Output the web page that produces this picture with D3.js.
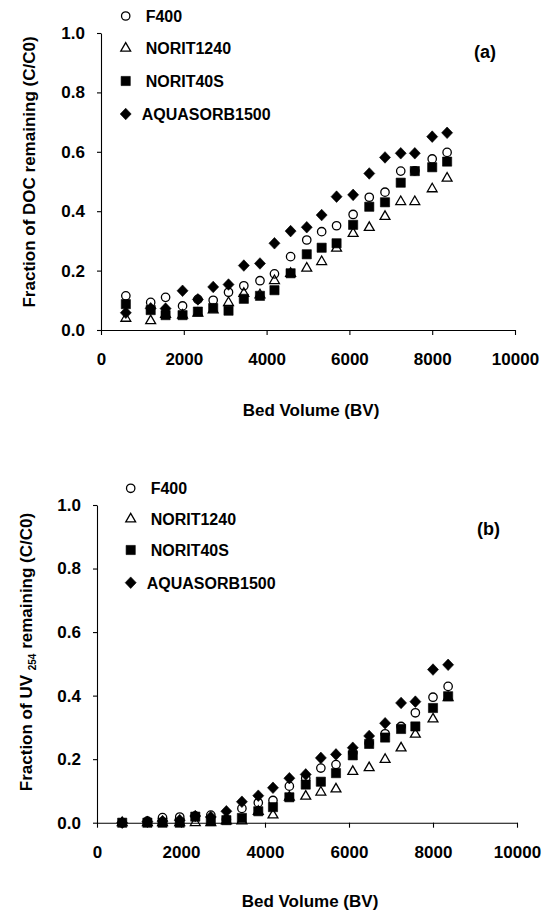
<!DOCTYPE html>
<html>
<head>
<meta charset="utf-8">
<script src="https://cdn.jsdelivr.net/npm/d3@7"></script>
<style>
html,body{margin:0;padding:0;background:#fff;}
svg{display:block;}
text{font-family:"Liberation Sans",Arial,sans-serif;font-weight:bold;fill:#000;}
</style>
</head>
<body>
<svg id="chart" width="551" height="910"></svg>
<script>
// ---- data ----
const bedVolume = [600,1200,1560,1970,2340,2710,3080,3450,3840,4190,4580,4970,5330,5690,6090,6480,6860,7240,7580,8000,8360];
const seriesNames = ["F400","NORIT1240","NORIT40S","AQUASORB1500"];

// (a) DOC
const docF400      = [0.115,0.093,0.110,0.081,0.103,0.100,0.127,0.149,0.166,0.189,0.247,0.303,0.331,0.351,0.389,0.447,0.464,0.535,0.536,0.576,0.598];
const docNorit1240 = [0.039,0.031,0.052,0.050,0.056,0.067,0.092,0.123,0.118,0.166,0.190,0.208,0.230,0.275,0.325,0.345,0.382,0.432,0.432,0.475,0.511];
const docNorit40S  = [0.087,0.067,0.050,0.050,0.062,0.074,0.065,0.105,0.115,0.134,0.191,0.255,0.277,0.292,0.354,0.415,0.430,0.496,0.535,0.548,0.567];
const docAquasorb  = [0.058,0.073,0.072,0.132,0.103,0.145,0.153,0.217,0.224,0.292,0.333,0.346,0.387,0.449,0.455,0.527,0.581,0.595,0.595,0.651,0.664];

// (b) UV254
const uvF400      = [0.000,0.005,0.016,0.018,0.021,0.024,0.010,0.045,0.063,0.070,0.115,0.140,0.172,0.183,0.220,0.250,0.280,0.303,0.346,0.395,0.429];
const uvNorit1240 = [0.000,0.000,0.000,0.000,0.000,0.000,0.005,0.005,0.035,0.024,0.080,0.083,0.096,0.106,0.161,0.173,0.199,0.235,0.278,0.326,0.393];
const uvNorit40S  = [0.000,0.000,0.000,0.000,0.019,0.005,0.008,0.015,0.036,0.049,0.080,0.120,0.129,0.156,0.212,0.248,0.268,0.295,0.303,0.361,0.398];
const uvAquasorb  = [0.000,0.003,0.005,0.008,0.021,0.018,0.036,0.066,0.085,0.110,0.140,0.152,0.204,0.215,0.236,0.273,0.313,0.377,0.381,0.482,0.497];

const xTicks = [0,2000,4000,6000,8000,10000];
const yTicks = [0.0,0.2,0.4,0.6,0.8,1.0];

// ---- drawing ----
const svg = d3.select("#chart");

const markerPath = {
  circle: () => d3.symbol(d3.symbolCircle, Math.PI*4.2*4.2)(),
  triangle: () => d3.symbol(d3.symbolTriangle, 42)(),
  square: () => "M-4.6,-4.6H4.6V4.6H-4.6Z",
  diamond: () => "M0,-5.8L5.5,0L0,5.8L-5.5,0Z"
};
const markerKinds = ["circle","triangle","square","diamond"];
const markerFilled = [false,false,true,true];

function drawMarker(g, kind, filled, x, y) {
  g.append("path")
    .attr("d", markerPath[kind]())
    .attr("transform", `translate(${x},${y})`)
    .attr("fill", filled ? "#000" : "none")
    .attr("stroke", "#000")
    .attr("stroke-width", filled ? 0.6 : 1.3);
}

function panel(cfg) {
  const x = d3.scaleLinear().domain([0,10000]).range([cfg.x0, cfg.x1]);
  const y = d3.scaleLinear().domain([0,1]).range([cfg.y0, cfg.y1]);
  const g = svg.append("g");

  // axes
  const xAxis = d3.axisBottom(x).tickValues(xTicks).tickSize(5).tickSizeOuter(0).tickFormat(d3.format("d")).tickPadding(18);
  const yAxis = d3.axisLeft(y).tickValues(yTicks).tickSize(4).tickSizeOuter(0).tickFormat(d3.format(".1f")).tickPadding(12);

  const gx = g.append("g").attr("transform", `translate(0,${cfg.y0})`).call(xAxis);
  const gy = g.append("g").attr("transform", `translate(${cfg.x0},0)`).call(yAxis);
  [gx, gy].forEach(a => {
    a.select(".domain").attr("stroke","#000").attr("stroke-width",1.1);
    a.selectAll(".tick line").attr("stroke","#000").attr("stroke-width",1.1);
    a.selectAll("text").attr("font-size", 17).attr("font-family","Liberation Sans, Arial, sans-serif").attr("font-weight","bold").attr("fill","#000");
  });

  // data
  cfg.series.forEach((vals, si) => {
    const sg = g.append("g");
    vals.forEach((v, i) => drawMarker(sg, markerKinds[si], markerFilled[si], x(bedVolume[i]), y(v)));
  });

  // axis titles
  g.append("text").attr("x", (cfg.x0+cfg.x1)/2 + 3).attr("y", cfg.xTitleY)
    .attr("text-anchor","middle").attr("font-size",17).text("Bed Volume (BV)");

  const yt = g.append("text")
    .attr("transform", `translate(${cfg.yTitleX},${cfg.yTitleY}) rotate(-90)`)
    .attr("text-anchor","middle").attr("font-size",17);
  cfg.yTitle(yt);

  // panel letter
  g.append("text").attr("x", cfg.letterX).attr("y", cfg.letterY).attr("text-anchor","middle")
    .attr("font-size",18).text(cfg.letter);

  // legend
  seriesNames.forEach((name, i) => {
    const ly = cfg.legY[i];
    drawMarker(g, markerKinds[i], markerFilled[i], cfg.legX, ly);
    g.append("text").attr("x", cfg.legX + (i===3 ? 16 : 20)).attr("y", ly + 5.8)
      .attr("font-size",16).text(name);
  });
}

panel({
  x0:101, x1:515, y0:330, y1:33,
  series:[docF400, docNorit1240, docNorit40S, docAquasorb],
  xTitleY:416, yTitleX:35, yTitleY:172,
  yTitle: t => t.text("Fraction of DOC remaining (C/C0)"),
  letter:"(a)", letterX:485, letterY:58,
  legX:125.7, legY:[16,48.3,81,114]
});

panel({
  x0:97, x1:517, y0:822.7, y1:505,
  series:[uvF400, uvNorit1240, uvNorit40S, uvAquasorb],
  xTitleY:907, yTitleX:32, yTitleY:652,
  yTitle: t => {
    t.append("tspan").text("Fraction of UV ");
    t.append("tspan").attr("font-size",10).attr("dy",4).text("254");
    t.append("tspan").attr("dy",-4).text(" remaining (C/C0)");
  },
  letter:"(b)", letterX:488.5, letterY:535,
  legX:130.7, legY:[488.3,519,550,582.7]
});
</script>
</body>
</html>
